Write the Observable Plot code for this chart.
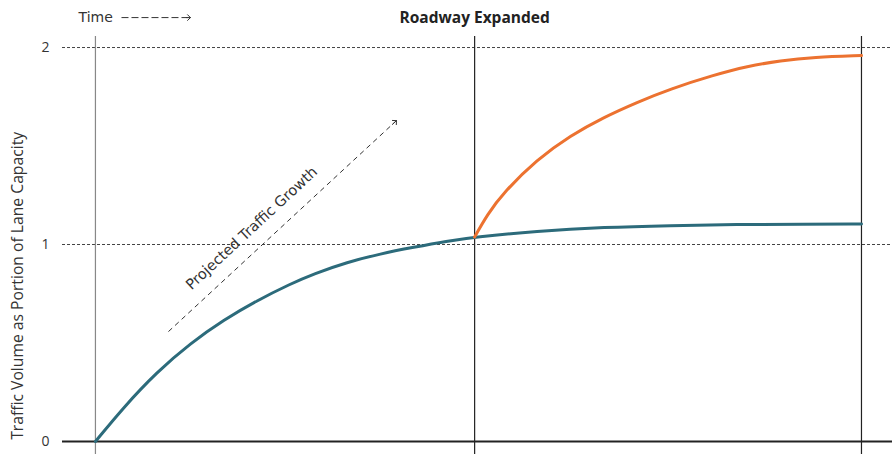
<!DOCTYPE html>
<html>
<head>
<meta charset="utf-8">
<script src="https://cdn.jsdelivr.net/npm/d3@7"></script>
<script src="https://cdn.jsdelivr.net/npm/@observablehq/plot@0.6"></script>
<style>
  html, body { margin: 0; padding: 0; background: #fff; }
  #chart svg { display: block; }
</style>
</head>
<body>
<div id="chart"></div>
<script>
// Time axis (arbitrary units): start, roadway expansion, end
const milestones = [0, 9.9, 20];
const expansionTime = 9.9;

// Baseline scenario (teal): traffic volume as portion of lane capacity
const tealT = [0, 0.74, 1.61, 2.48, 3.35, 4.22, 5.09, 5.70, 6.57, 7.44, 8.31, 9.18, 9.9, 11.5, 13.3, 15.0, 16.75, 18.5, 20];
const tealV = [0, 0.175, 0.354, 0.499, 0.617, 0.716, 0.800, 0.851, 0.910, 0.953, 0.986, 1.017, 1.038, 1.068, 1.088, 1.096, 1.102, 1.103, 1.104];

// After expansion (orange): induced demand
const orangeT = [9.9, 10.23, 10.66, 11.53, 12.40, 13.27, 14.14, 15.01, 16.14, 17.02, 17.89, 18.75, 20];
const orangeV = [1.038, 1.152, 1.265, 1.432, 1.553, 1.646, 1.722, 1.790, 1.860, 1.905, 1.934, 1.951, 1.959];

const yTicks = [0, 1, 2];
const gridLevels = [1, 2];

// Annotations
const titleText = "Roadway Expanded";
const timeText = "Time";
const growthText = "Projected Traffic Growth";
const yLabel = "Traffic Volume as Portion of Lane Capacity";
const growthArrow = [{x1: 1.906, y1: 0.558, x2: 7.859, y2: 1.629}];
const headerLevel = 2.152;
const timeArrow = [{x1: 0.68, y1: headerLevel, x2: 2.48, y2: headerLevel}];
const growthLabelPos = [{x: 4.08, y: 1.082}];

const teal = tealT.map((t, i) => ({t, v: tealV[i]}));
const orange = orangeT.map((t, i) => ({t, v: orangeV[i]}));

const chart = Plot.plot({
  width: 892,
  height: 454,
  marginLeft: 62,
  marginRight: 0,
  marginTop: 36,
  marginBottom: 0,
  style: {fontFamily: "'Open Sans', sans-serif", fontSize: "14px", color: "#333", background: "#fff"},
  x: {domain: [-0.86, 20.81], axis: null},
  y: {domain: [-0.066, 2.056], axis: null},
  marks: [
    Plot.axisY(yTicks, {tickSize: 0, tickPadding: 13, fontSize: 14, label: null, fill: "#333", tickFormat: d => String(d)}),
    Plot.ruleY(gridLevels, {stroke: "#444", strokeWidth: 1, strokeDasharray: "3,2"}),
    Plot.ruleX(milestones, {stroke: (d, i) => i === 0 ? "#888" : "#222", strokeWidth: 1.2}),
    Plot.ruleY([0], {stroke: "#222", strokeWidth: 2}),
    Plot.line(teal, {x: "t", y: "v", stroke: "#2c6b7b", strokeWidth: 3, curve: "basis"}),
    Plot.line(orange, {x: "t", y: "v", stroke: "#ec7230", strokeWidth: 3, curve: "basis"}),
    // growth arrow: dashed shaft + solid head
    Plot.link(growthArrow, {x1: "x1", y1: "y1", x2: "x2", y2: "y2", stroke: "#333", strokeWidth: 1, strokeDasharray: "5,4"}),
    Plot.arrow(growthArrow, {x1: "x1", y1: "y1", x2: "x2", y2: "y2", stroke: "#333", strokeWidth: 1, headAngle: 90, headLength: 6, insetStart: 305}),
    Plot.text(growthLabelPos, {x: "x", y: "y", text: () => growthText, rotate: -42.8, fontSize: 14.5, fontFamily: "DejaVu Sans", fill: "#333"}),
    // header
    Plot.text([expansionTime], {x: d => d, y: () => headerLevel, text: () => titleText, fontWeight: "bold", fontSize: 15.5, fill: "#222"}),
    Plot.text([-0.44], {x: d => d, y: () => headerLevel, text: () => timeText, textAnchor: "start", fontSize: 14, fontFamily: "DejaVu Sans", fill: "#333"}),
    Plot.link(timeArrow, {x1: "x1", y1: "y1", x2: "x2", y2: "y2", stroke: "#333", strokeWidth: 1, strokeDasharray: "7,3"}),
    Plot.arrow(timeArrow, {x1: "x1", y1: "y1", x2: "x2", y2: "y2", stroke: "#333", strokeWidth: 1, headAngle: 90, headLength: 6, insetStart: 65}),
    // y label
    Plot.text([0.79], {y: d => d, frameAnchor: "left", dx: -45, rotate: -90, textAnchor: "middle", text: () => yLabel, fontSize: 15.7, fill: "#333"})
  ]
});
document.getElementById("chart").appendChild(chart);
</script>
</body>
</html>
